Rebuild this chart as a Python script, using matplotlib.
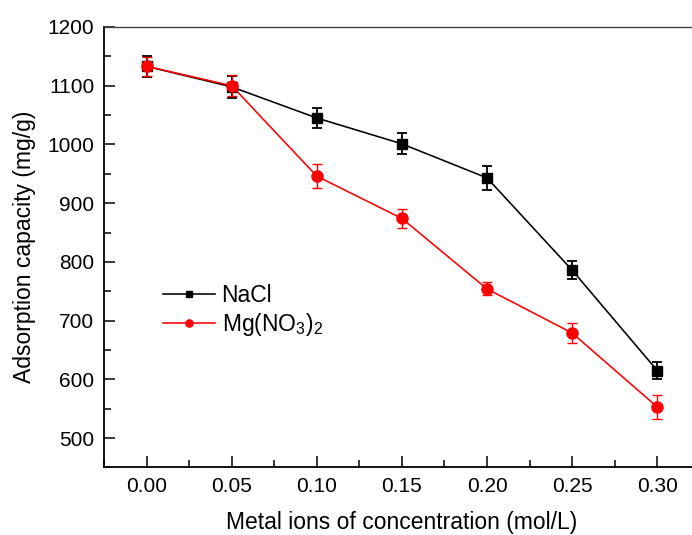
import matplotlib
matplotlib.use("Agg")
import matplotlib.pyplot as plt
from matplotlib.ticker import MultipleLocator

plt.rcParams["font.family"] = ["Liberation Sans", "DejaVu Sans"]
plt.rcParams["mathtext.fontset"] = "custom"
plt.rcParams["mathtext.rm"] = "Liberation Sans"

conc = [0.00, 0.05, 0.10, 0.15, 0.20, 0.25, 0.30]
nacl = [1133, 1098, 1045, 1001, 943, 786, 615]
nacl_err = [18, 19, 17, 18, 20, 15, 15]
mgno3 = [1133, 1100, 946, 874, 754, 679, 553]
mgno3_err = [16, 18, 20, 16, 11, 17, 20]
xtick_labels = ["0.00", "0.05", "0.10", "0.15", "0.20", "0.25", "0.30"]

fig = plt.figure(figsize=(6.92, 5.35), dpi=100)
# axes run past the right edge, so the right spine is cut off
ax = fig.add_axes([0.1503, 0.1262, 0.861, 0.8234])

# error bars first, then the lines with markers (those go in the legend)
ax.errorbar(conc, nacl, yerr=nacl_err, fmt="none", ecolor="black",
            elinewidth=1.3, capsize=3.4, capthick=1.3)
ax.errorbar(conc, mgno3, yerr=mgno3_err, fmt="none", ecolor="red",
            elinewidth=1.0, capsize=3.4, capthick=1.0)
ax.plot(conc, nacl, color="black", marker="s", markersize=6.5, linewidth=1.15,
        label="NaCl")
ax.plot(conc, mgno3, color="red", marker="o", markersize=8, linewidth=1.15,
        label=r"Mg(NO$_\mathregular{3}$)$_\mathregular{2}$")

ax.set_xlim(-0.025, 0.325)
ax.set_ylim(450, 1200)
ax.set_xticks(conc)
ax.set_xticklabels(xtick_labels)
ax.xaxis.set_minor_locator(MultipleLocator(0.025))
ax.set_yticks(range(500, 1201, 100))
ax.yaxis.set_minor_locator(MultipleLocator(50))

ax.tick_params(which="both", direction="in", labelsize=15, width=1.1,
               top=False, right=False)
ax.tick_params(which="major", length=8, pad=7)
ax.tick_params(which="minor", length=5)
for side in ["left", "bottom"]:
    ax.spines[side].set_linewidth(1.3)
ax.spines["top"].set_linewidth(1.0)
ax.spines["top"].set_color("#444444")

ax.set_xlabel("Metal ions of concentration (mol/L)", fontsize=16.5, labelpad=11)
ax.set_ylabel("Adsorption capacity (mg/g)", fontsize=16.5, labelpad=8)

ax.legend(loc="upper left", bbox_to_anchor=(0.0985, 0.417), frameon=False,
          borderpad=0, borderaxespad=0, fontsize=16.5, markerscale=0.65,
          handlelength=2.27, handletextpad=0.3, labelspacing=0.2)

fig.savefig("out.png", dpi=100)
